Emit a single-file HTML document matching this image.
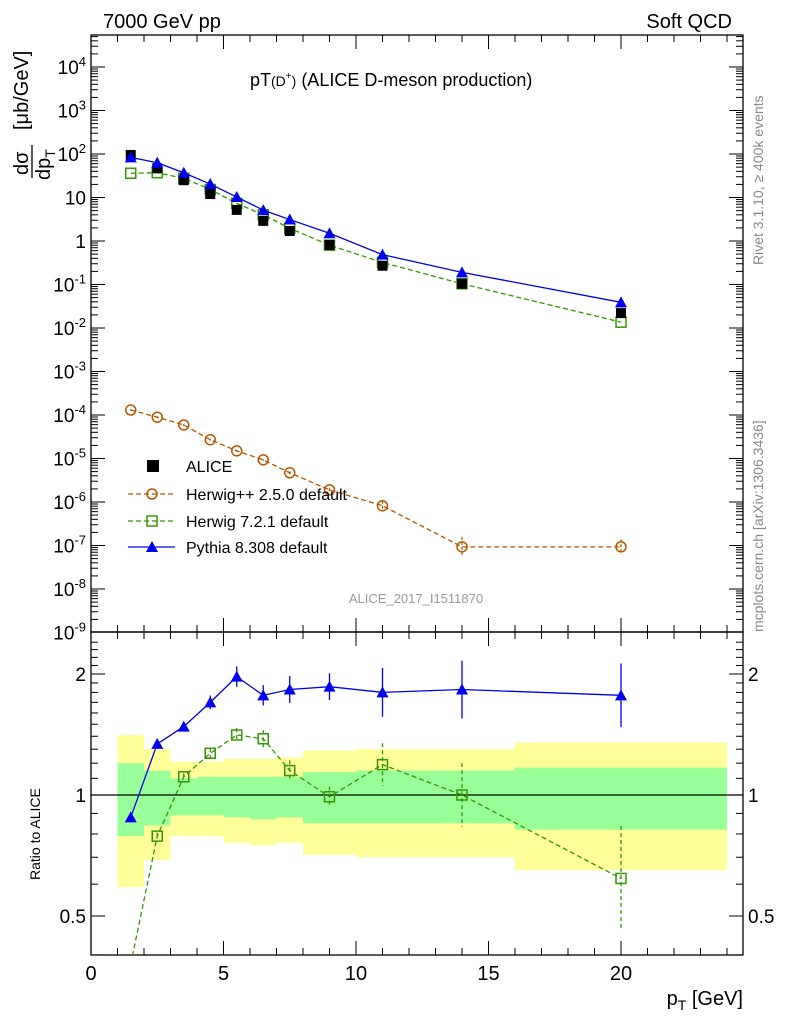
<!DOCTYPE html>
<html><head><meta charset="utf-8"><style>
body{margin:0;background:#fff;font-family:"Liberation Sans",sans-serif}
svg text{font-family:"Liberation Sans",sans-serif}
</style></head><body>
<svg id="c" width="786" height="1024" xmlns="http://www.w3.org/2000/svg">
<text x="103" y="28" font-size="20">7000 GeV pp</text>
<text x="732" y="28" font-size="20" text-anchor="end">Soft QCD</text>
<text x="250" y="86" font-size="18">pT<tspan font-size="14">(D</tspan><tspan font-size="10" dy="-7">+</tspan><tspan font-size="14" dy="7">)</tspan> (ALICE D-meson production)</text>
<text x="416" y="603" font-size="13" fill="#999" text-anchor="middle">ALICE_2017_I1511870</text>
<text transform="translate(763,265) rotate(-90)" font-size="14" fill="#888">Rivet 3.1.10, ≥ 400k events</text>
<text transform="translate(763,632) rotate(-90)" font-size="14" fill="#888">mcplots.cern.ch [arXiv:1306.3436]</text>
<g font-size="20">
<text transform="translate(28,175) rotate(-90)">dσ</text>
<line x1="32" y1="178" x2="32" y2="145" stroke="#000" stroke-width="1.3"/>
<text transform="translate(50,180) rotate(-90)">dp<tspan font-size="14" dy="5">T</tspan></text>
<text transform="translate(28,130) rotate(-90)">[μb/GeV]</text>
</g>
<text transform="translate(40,880) rotate(-90)" font-size="14">Ratio to ALICE</text>
<text x="743" y="1005" font-size="20" text-anchor="end">p<tspan font-size="14" dy="5">T</tspan><tspan dy="-5"> [GeV]</tspan></text>
<g id="top"></g><g id="bot"></g><g id="leg"></g>
</svg>
<script>
// data
const xs=[1.5,2.5,3.5,4.5,5.5,6.5,7.5,9,11,14,20];
const alice=[95,47,25,12,5.2,2.9,1.7,0.81,0.27,0.104,0.022];
const herwigpp=[1.3e-4,8.9e-5,5.9e-5,2.7e-5,1.5e-5,9.3e-6,4.7e-6,1.9e-6,8.2e-7,9.3e-8,9.3e-8];
const herwigppErr=[0.05,0.05,0.05,0.05,0.05,0.05,0.08,0.1,0.3,0.7,0.5];
const herwig7Ratio=[0.38,0.79,1.11,1.27,1.41,1.38,1.15,0.99,1.19,1.0,0.62];
const herwig7Err=[0.02,0.02,0.02,0.03,0.04,0.05,0.06,0.06,0.13,0.2,0.35];
const pythiaRatio=[0.88,1.34,1.48,1.70,1.97,1.77,1.83,1.86,1.80,1.83,1.77];
const pythiaErr=[0.01,0.02,0.02,0.04,0.06,0.06,0.08,0.08,0.15,0.18,0.2];
const binEdges=[1,2,3,4,5,6,7,8,10,12,16,24];
const yelLo=[0.59,0.69,0.79,0.79,0.76,0.75,0.76,0.71,0.70,0.70,0.65];
const yelHi=[1.41,1.30,1.21,1.21,1.23,1.23,1.24,1.29,1.30,1.30,1.35];
const grnLo=[0.79,0.84,0.89,0.89,0.88,0.87,0.88,0.85,0.85,0.85,0.82];
const grnHi=[1.20,1.15,1.10,1.11,1.11,1.11,1.11,1.14,1.15,1.15,1.17];
const topTicks=[4,3,2,1,0,-1,-2,-3,-4,-5,-6,-7,-8,-9];
const ratioTicks=[0.5,1,2];
const xTicks=[0,5,10,15,20];

const L=91,R=743,T1=35,B1=632,T2=632,B2=955;
const X=v=>L+v*26.5;
const Y1=v=>241-Math.log10(v)*43.5;
const Y2=v=>795-Math.log2(v)*121;
const NS="http://www.w3.org/2000/svg";
function mk(p,tag,a){const e=document.createElementNS(NS,tag);for(const k in a)e.setAttribute(k,a[k]);p.appendChild(e);return e;}
const gTop=document.getElementById('top'),gBot=document.getElementById('bot'),leg=document.getElementById('leg');

// ratio bands
for(let i=0;i<yelLo.length;i++){
 const r=mk(gBot,'rect',{x:X(binEdges[i]),y:Y2(yelHi[i]),width:X(binEdges[i+1])-X(binEdges[i]),height:Y2(yelLo[i])-Y2(yelHi[i]),fill:'#ffff99'});
 
 
 const g=mk(gBot,'rect',{x:X(binEdges[i]),y:Y2(grnHi[i]),width:X(binEdges[i+1])-X(binEdges[i]),height:Y2(grnLo[i])-Y2(grnHi[i]),fill:'#99ff99'});
 
 
}
mk(gBot,'line',{x1:L,x2:R,y1:Y2(1),y2:Y2(1),stroke:'#000','stroke-width':1.3});

// frames
for(const [t,b] of [[T1,B1],[T2,B2]]){
 const f=mk(t===T1?gTop:gBot,'rect',{x:L,y:t,width:R-L,height:b-t,fill:'none',stroke:'#000','stroke-width':1.3});
 
 
}
// x ticks
for(let v=0;v<=24;v++){
 const len=v%5===0?14:7;
 for(const [t,b] of [[T1,B1],[T2,B2]]){
  mk(gTop,'line',{x1:X(v),x2:X(v),y1:b,y2:b-len,stroke:'#000'});
  mk(gTop,'line',{x1:X(v),x2:X(v),y1:t,y2:t+len,stroke:'#000'});
 }
}
xTicks.forEach(v=>{const t=mk(gTop,'text',{x:X(v),y:980,'font-size':20,'text-anchor':'middle'});t.textContent=v;
 
 });
// top y ticks
for(let d=-9;d<=4;d++){
 for(let m=1;m<10;m++){const y=Y1(m*Math.pow(10,d));if(y<T1||y>B1)continue;const len=m===1?14:7;
  mk(gTop,'line',{x1:L,x2:L+len,y1:y,y2:y,stroke:'#000'});mk(gTop,'line',{x1:R,x2:R-len,y1:y,y2:y,stroke:'#000'});}
}
topTicks.forEach(d=>{const t=mk(gTop,'text',{x:86,y:Y1(Math.pow(10,d))+7,'font-size':19,'text-anchor':'end'});
 
 
 if(d===0)t.textContent='1';else if(d===1)t.textContent='10';
 else{t.textContent='10';const s=mk(t,'tspan',{dy:-8,'font-size':13});s.textContent=d;}});
// ratio ticks
for(let v=0.4;v<=2.5;v+=0.1){const y=Y2(v);if(y<T2||y>B2)continue;const major=[0.5,1,2].some(q=>Math.abs(q-v)<1e-6);const len=major?14:7;
 mk(gBot,'line',{x1:L,x2:L+len,y1:y,y2:y,stroke:'#000'});mk(gBot,'line',{x1:R,x2:R-len,y1:y,y2:y,stroke:'#000'});}
ratioTicks.forEach(v=>{for(const [x,a] of [[86,'end'],[748,'start']]){const t=mk(gBot,'text',{x:x,y:Y2(v)+7,'font-size':19,'text-anchor':a});t.textContent=v;
 
 }});

// clip
const defs=mk(document.getElementById('c'),'defs',{});
const c1=mk(defs,'clipPath',{id:'cp1'});mk(c1,'rect',{x:L,y:T1,width:R-L,height:B1-T1});
const c2=mk(defs,'clipPath',{id:'cp2'});mk(c2,'rect',{x:L,y:T2,width:R-L,height:B2-T2});
const g1=mk(gTop,'g',{'clip-path':'url(#cp1)'}),g2=mk(gBot,'g',{'clip-path':'url(#cp2)'});

function path(g,pts,col,dash,name){const p=mk(g,'polyline',{points:pts.map(q=>q.join(',')).join(' '),fill:'none',stroke:col,'stroke-width':1.3});if(dash)p.setAttribute('stroke-dasharray',dash);
 
 }
function err(g,x,y1,y2,col,dash){mk(g,'line',{x1:x,x2:x,y1:y1,y2:y2,stroke:col,'stroke-width':1.3,'stroke-dasharray':dash||'none'});}
function tri(g,x,y,col){const p=mk(g,'polygon',{points:`${x},${y-6} ${x-6},${y+5} ${x+6},${y+5}`,fill:col});
 
 }
function sq(g,x,y,col){const p=mk(g,'rect',{x:x-5,y:y-5,width:10,height:10,fill:'none',stroke:col,'stroke-width':1.5});
 
 }
function circ(g,x,y,col){const p=mk(g,'circle',{cx:x,cy:y,r:5,fill:'none',stroke:col,'stroke-width':1.5});
 
 }
const BL='#0000ee',GR='#339900',BR='#bb5500';

// top panel
const h7=xs.map((x,i)=>alice[i]*herwig7Ratio[i]);
const py=xs.map((x,i)=>alice[i]*pythiaRatio[i]);
path(g1,xs.map((x,i)=>[X(x),Y1(herwigpp[i])]),BR,'5,3','herwigpp-line');
xs.forEach((x,i)=>{const v=herwigpp[i],e=herwigppErr[i];err(g1,X(x),Y1(v*(1+e)),Y1(v/(1+e)),BR,'3,2');circ(g1,X(x),Y1(v),BR);});
path(g1,xs.map((x,i)=>[X(x),Y1(h7[i])]),GR,'5,3','herwig7-line');
xs.forEach((x,i)=>sq(g1,X(x),Y1(h7[i]),GR));
xs.forEach((x,i)=>{const r=mk(g1,'rect',{x:X(x)-5,y:Y1(alice[i])-5,width:10,height:10,fill:'#000'});
 
 });
path(g1,xs.map((x,i)=>[X(x),Y1(py[i])]),BL,'','pythia-line');
xs.forEach((x,i)=>tri(g1,X(x),Y1(py[i]),BL));

// ratio panel
path(g2,xs.map((x,i)=>[X(x),Y2(herwig7Ratio[i])]),GR,'5,3','herwig7-ratio-line');
xs.forEach((x,i)=>{const v=herwig7Ratio[i],e=herwig7Err[i];err(g2,X(x),Y2(v*(1+e)),Y2(v/(1+e)),GR,'4,3');sq(g2,X(x),Y2(v),GR);});
path(g2,xs.map((x,i)=>[X(x),Y2(pythiaRatio[i])]),BL,'','pythia-ratio-line');
xs.forEach((x,i)=>{const v=pythiaRatio[i],e=pythiaErr[i];err(g2,X(x),Y2(v*(1+e)),Y2(v/(1+e)),BL);tri(g2,X(x),Y2(v),BL);});

// legend
const ly=[466,494,521,547],lt=['ALICE','Herwig++ 2.5.0 default','Herwig 7.2.1 default','Pythia 8.308 default'];
const names=['legend-alice','legend-herwigpp','legend-herwig7','legend-pythia'];
lt.forEach((s,i)=>{const g=mk(leg,'g',{});
 
 
 const y=ly[i];
 if(i===0)mk(g,'rect',{x:147,y:y-6,width:12,height:12,fill:'#000'});
 if(i===1){mk(g,'line',{x1:128,x2:175,y1:y,y2:y,stroke:BR,'stroke-dasharray':'5,3','stroke-width':1.3});circ(g,152,y,BR);}
 if(i===2){mk(g,'line',{x1:128,x2:175,y1:y,y2:y,stroke:GR,'stroke-dasharray':'5,3','stroke-width':1.3});sq(g,152,y,GR);}
 if(i===3){mk(g,'line',{x1:128,x2:175,y1:y,y2:y,stroke:BL,'stroke-width':1.3});tri(g,152,y,BL);}
 const t=mk(g,'text',{x:186,y:y+6,'font-size':16});t.textContent=s;});
</script>
</body></html>
